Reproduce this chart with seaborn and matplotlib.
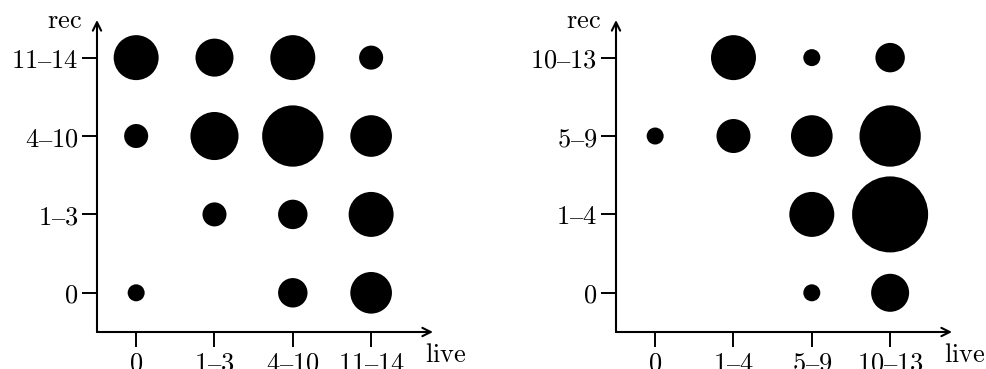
import numpy as np
import pandas as pd
import matplotlib
matplotlib.use("Agg")
import matplotlib.pyplot as plt
import seaborn as sns

sns.set_theme(style="white")
plt.rcParams["mathtext.fontset"] = "cm"
plt.rcParams["font.family"] = ["DejaVu Serif"]

# ---- data (counts; bubble area proportional to count) ----
left_live = ["0", "1–3", "4–10", "11–14"]
left_rec = ["0", "1–3", "4–10", "11–14"]
# rows: rec from 0 (bottom) to top; columns: live categories
left_counts = [
    [1, 0, 3, 6],    # rec 0
    [0, 2, 3, 7],    # rec 1–3
    [2, 8, 13, 6],   # rec 4–10
    [7, 5, 7, 2],    # rec 11–14
]

right_live = ["0", "1–4", "5–9", "10–13"]
right_rec = ["0", "1–4", "5–9", "10–13"]
right_counts = [
    [0, 0, 1, 5],    # rec 0
    [0, 0, 7, 20],   # rec 1–4
    [1, 4, 6, 13],   # rec 5–9
    [0, 7, 1, 3],    # rec 10–13
]


def to_long(counts):
    rows = []
    for yi, row in enumerate(counts):
        for xi, c in enumerate(row):
            rows.append({"live": xi, "rec": yi, "n": c})
    return pd.DataFrame(rows)


W, H = 987, 369
fig = plt.figure(figsize=(W / 100, H / 100), dpi=100)

ax_w, ax_h = 336, 312
axes = [
    fig.add_axes([97 / W, (H - 332) / H, ax_w / W, ax_h / H]),
    fig.add_axes([616 / W, (H - 332) / H, ax_w / W, ax_h / H]),
]

FS = 19
panels = [
    (axes[0], left_counts, left_live, left_rec),
    (axes[1], right_counts, right_live, right_rec),
]

for ax, counts, xl, yl in panels:
    df = to_long(counts)
    sns.scatterplot(data=df, x="live", y="rec", size="n",
                    sizes=(0, 2996), size_norm=(0, 20),
                    color="black", linewidth=0, legend=False, ax=ax)
    ax.set_xlim(-0.5, 3.79)
    ax.set_ylim(-0.5, 3.48)
    for s in ax.spines.values():
        s.set_visible(False)
    ax.set_xticks(range(len(xl)))
    ax.set_xticklabels([r"$\mathrm{%s}$" % t for t in xl], fontsize=FS)
    ax.set_yticks(range(len(yl)))
    ax.set_yticklabels([r"$\mathrm{%s}$" % t for t in yl], fontsize=FS)
    ax.tick_params(axis="both", which="both", direction="out", length=10.5,
                   width=1.4, color="black", labelcolor="black")
    ax.tick_params(axis="x", pad=3, bottom=True)
    ax.tick_params(axis="y", pad=3, left=True)
    ax.set_xlabel("")
    ax.set_ylabel("")
    ax.grid(False)
    # arrow axes
    ax.annotate("", xy=(1, 0), xytext=(0, 0), xycoords="axes fraction",
                textcoords="axes fraction",
                arrowprops=dict(arrowstyle="->,head_length=0.5,head_width=0.25",
                                lw=1.5, color="black", shrinkA=0, shrinkB=0))
    ax.annotate("", xy=(0, 1), xytext=(0, 0), xycoords="axes fraction",
                textcoords="axes fraction",
                arrowprops=dict(arrowstyle="->,head_length=0.5,head_width=0.25",
                                lw=1.5, color="black", shrinkA=0, shrinkB=0))
    ax.text(-15 / ax_w, 1 - 8 / ax_h, r"$\mathrm{rec}$", transform=ax.transAxes,
            ha="right", va="baseline", fontsize=FS, color="black")
    ax.text(1 - 8 / ax_w, -30 / ax_h, r"$\mathrm{live}$", transform=ax.transAxes,
            ha="left", va="baseline", fontsize=FS, color="black")

fig.savefig("out.png", dpi=100)
